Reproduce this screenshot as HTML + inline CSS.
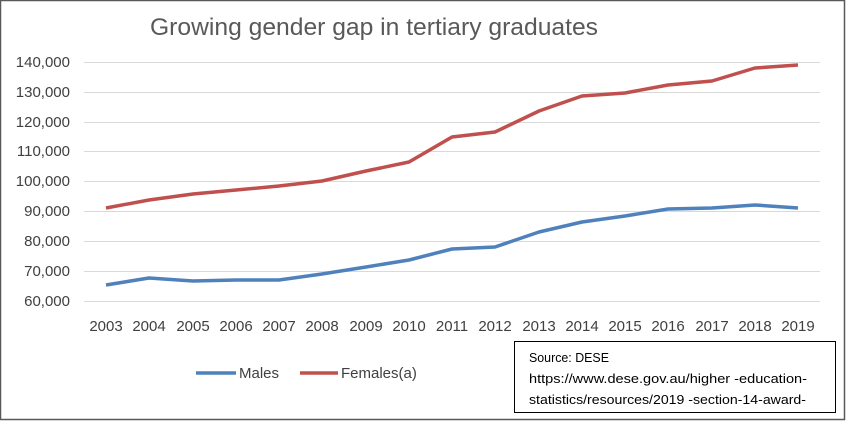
<!DOCTYPE html>
<html><head><meta charset="utf-8"><style>body{margin:0;background:#fff}svg{display:block}text{font-family:"Liberation Sans",sans-serif}</style></head><body>
<svg width="846" height="421" viewBox="0 0 846 421" xmlns="http://www.w3.org/2000/svg">
<rect x="0.5" y="0.5" width="844" height="419" fill="#fff" stroke="#595959" stroke-width="1.5"/>
<text x="150" y="35" font-size="24" fill="#595959" textLength="448" lengthAdjust="spacingAndGlyphs">Growing gender gap in tertiary graduates</text>
<g stroke="#d9d9d9" stroke-width="1">
<line x1="84" x2="820" y1="62.5" y2="62.5"/><line x1="84" x2="820" y1="92.5" y2="92.5"/><line x1="84" x2="820" y1="122.5" y2="122.5"/><line x1="84" x2="820" y1="151.5" y2="151.5"/><line x1="84" x2="820" y1="181.5" y2="181.5"/><line x1="84" x2="820" y1="211.5" y2="211.5"/><line x1="84" x2="820" y1="241.5" y2="241.5"/><line x1="84" x2="820" y1="271.5" y2="271.5"/><line x1="84" x2="820" y1="301.5" y2="301.5"/>
</g>
<g font-size="15" fill="#404040" text-anchor="end">
<text x="70" y="67">140,000</text><text x="70" y="97">130,000</text><text x="70" y="127">120,000</text><text x="70" y="156">110,000</text><text x="70" y="186">100,000</text><text x="70" y="216">90,000</text><text x="70" y="246">80,000</text><text x="70" y="276">70,000</text><text x="70" y="306">60,000</text>
</g>
<g font-size="15" fill="#404040" text-anchor="middle">
<text x="106" y="331">2003</text><text x="149" y="331">2004</text><text x="193" y="331">2005</text><text x="236" y="331">2006</text><text x="279" y="331">2007</text><text x="322" y="331">2008</text><text x="366" y="331">2009</text><text x="409" y="331">2010</text><text x="452" y="331">2011</text><text x="495" y="331">2012</text><text x="539" y="331">2013</text><text x="582" y="331">2014</text><text x="625" y="331">2015</text><text x="668" y="331">2016</text><text x="712" y="331">2017</text><text x="755" y="331">2018</text><text x="798" y="331">2019</text>
</g>
<polyline fill="none" stroke="#4f81bd" stroke-width="3.5" stroke-linejoin="round" points="106,285 149,278 193,281 236,280 279,280 322,274 366,267 409,260 452,249 495,247 539,232 582,222 625,216 668,209 712,208 755,205 798,208"/>
<polyline fill="none" stroke="#c0504d" stroke-width="3.5" stroke-linejoin="round" points="106,208 149,200 193,194 236,190 279,186 322,181 366,171 409,162 452,137 495,132 539,111 582,96 625,93 668,85 712,81 755,68 798,65"/>
<line x1="196" x2="236" y1="373" y2="373" stroke="#4f81bd" stroke-width="3.5"/>
<text x="239" y="378" font-size="15" fill="#404040">Males</text>
<line x1="300" x2="338" y1="373" y2="373" stroke="#c0504d" stroke-width="3.5"/>
<text x="341" y="378" font-size="15" fill="#404040">Females(a)</text>
<rect x="514.5" y="341.5" width="321" height="71" fill="#fff" stroke="#000" stroke-width="1"/>
<g font-size="13" fill="#000">
<text x="529" y="362" textLength="80" lengthAdjust="spacingAndGlyphs">Source: DESE</text>
<text x="529" y="383" textLength="278" lengthAdjust="spacingAndGlyphs">https://www.dese.gov.au/higher  -education-</text>
<text x="529" y="404" textLength="277" lengthAdjust="spacingAndGlyphs">statistics/resources/2019 -section-14-award-</text>
</g>
</svg>
</body></html>
